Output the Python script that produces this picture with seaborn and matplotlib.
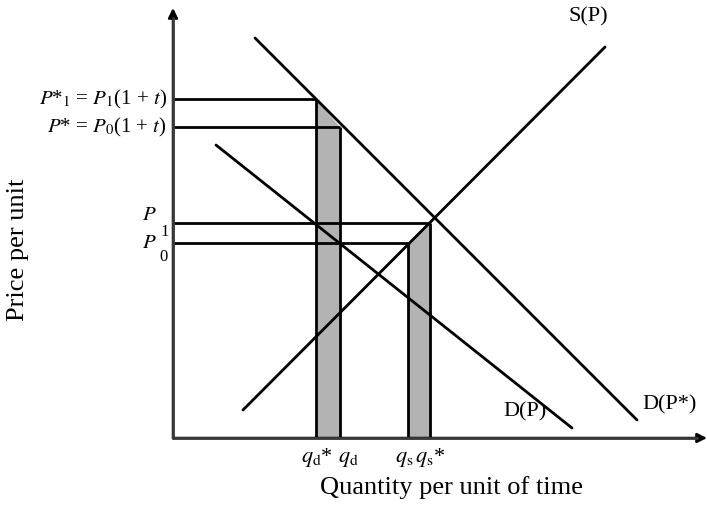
import numpy as np
import pandas as pd
import seaborn as sns
import matplotlib.pyplot as plt

# price levels (axis units)
P1_star = 339
P0_star = 311
P1 = 215
P0 = 195

# quantities
q_d_star = 143
q_d = 167
q_s = 235
q_s_star = 257

# curve end points
S_x = [70, 432]
S_y = [28, 391]
D_x = [43, 399]
D_y = [293, 10]
Dstar_x = [82, 464]
Dstar_y = [400, 18]

x_max = 534
y_max = 430

LINE = "black"
AXIS = "#3a3a3a"
SHADE = "#b3b3b3"

sns.set_theme(style="white")
plt.rcParams["font.family"] = ["Liberation Serif", "DejaVu Serif"]
plt.rcParams["mathtext.fontset"] = "stix"
plt.rcParams["text.color"] = "black"

fig = plt.figure(figsize=(7.07, 5.08), dpi=100)
ax = fig.add_axes([173 / 707, 70 / 508, x_max / 707, y_max / 508])
ax.set_xlim(0, x_max)
ax.set_ylim(0, y_max)
ax.axis("off")

# shaded tax wedges
ax.fill([q_d_star, q_d_star, q_d, q_d], [0, P1_star, P0_star, 0],
	facecolor=SHADE, edgecolor="none", zorder=1)
ax.fill([q_s, q_s, q_s_star, q_s_star], [0, P0, P1, 0],
	facecolor=SHADE, edgecolor="none", zorder=1)

# vertical edges of the wedges
for qx, top in [(q_d_star, P1_star), (q_d, P0_star), (q_s, P0), (q_s_star, P1)]:
	ax.plot([qx, qx], [0, top], color=LINE, lw=2, zorder=3, solid_capstyle="butt")

# horizontal price lines
for py, end in [(P1_star, q_d_star), (P0_star, q_d), (P1, q_s_star), (P0, q_s)]:
	ax.plot([0, end], [py, py], color=LINE, lw=2, zorder=3, solid_capstyle="butt")

# supply / demand curves
curves = {"S": (S_x, S_y), "D": (D_x, D_y), "Dstar": (Dstar_x, Dstar_y)}
for name, (xs, ys) in curves.items():
	df = pd.DataFrame({"x": xs, "y": ys})
	sns.lineplot(data=df, x="x", y="y", color=LINE, linewidth=2, ax=ax,
		estimator=None, sort=False, zorder=4)

# axes with arrows
ax.annotate("", xy=(0, y_max), xytext=(0, 0),
	arrowprops=dict(arrowstyle="-|>", color="black", lw=1.8, mutation_scale=14,
		shrinkA=0, shrinkB=0), zorder=5)
ax.annotate("", xy=(x_max, 0), xytext=(0, 0),
	arrowprops=dict(arrowstyle="-|>", color="black", lw=1.8, mutation_scale=14,
		shrinkA=0, shrinkB=0), zorder=5)
ax.plot([0, 0], [0, y_max - 10], color=AXIS, lw=2, zorder=5, clip_on=False)
ax.plot([0, x_max - 10], [0, 0], color=AXIS, lw=2, zorder=5, clip_on=False)

fs = 15
# price labels
ax.text(-6, P1_star, r"$P$*$_1$ = $P_1$(1 + $t$)", ha="right", va="center", fontsize=fs)
ax.text(-6, P0_star, r"$P$* = $P_0$(1 + $t$)", ha="right", va="center", fontsize=fs)
ax.text(-16, 223, r"$P$", ha="right", va="center", fontsize=fs)
ax.text(-16, 195, r"$P$", ha="right", va="center", fontsize=fs)
ax.text(-13, 206, "1", ha="left", va="center", fontsize=12)
ax.text(-14, 181, "0", ha="left", va="center", fontsize=12)

# quantity labels
ax.text(q_d_star + 1, -24, r"$q_{\mathrm{d}}$*", ha="center", va="baseline", fontsize=16)
ax.text(q_d + 8, -24, r"$q_{\mathrm{d}}$", ha="center", va="baseline", fontsize=16)
ax.text(q_s - 4, -24, r"$q_{\mathrm{s}}$", ha="center", va="baseline", fontsize=16)
ax.text(q_s_star + 0, -24, r"$q_{\mathrm{s}}$*", ha="center", va="baseline", fontsize=16)

# curve labels
ax.text(415, 421, "S(P)", ha="center", va="center", fontsize=16)
ax.text(352, 26, "D(P)", ha="center", va="center", fontsize=16)
ax.text(497, 33, "D(P*)", ha="center", va="center", fontsize=16)

# axis titles
ax.text(278, -50, "Quantity per unit of time", ha="center", va="center", fontsize=19)
ax.text(-155, 188, "Price per unit", ha="center", va="center", rotation=90, fontsize=19)

fig.savefig("out.png", dpi=100)
